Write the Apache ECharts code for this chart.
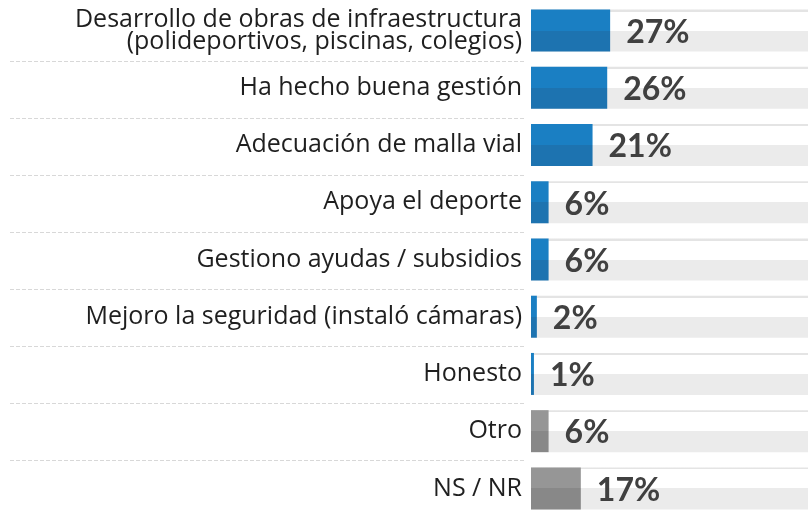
<!DOCTYPE html>
<html>
<head>
<meta charset="utf-8">
<script src="https://cdn.jsdelivr.net/npm/echarts@6/dist/echarts.min.js"></script>
<style>
  html, body { margin: 0; padding: 0; background: #fff; }
  #chart { width: 808px; height: 517px; }
</style>
</head>
<body>
<div id="chart"></div>
<script>
const categories = [
  'Desarrollo de obras de infraestructura\n(polideportivos, piscinas, colegios)',
  'Ha hecho buena gestión',
  'Adecuación de malla vial',
  'Apoya el deporte',
  'Gestiono ayudas / subsidios',
  'Mejoro la seguridad (instaló cámaras)',
  'Honesto',
  'Otro',
  'NS / NR'
];
const percentages = [27, 26, 21, 6, 6, 2, 1, 6, 17];
const greyCategories = ['Otro', 'NS / NR'];

const labelFont = '"Open Sans", sans-serif';
const valueFont = 'Lato, "Open Sans", sans-serif';

const blueFill = new echarts.graphic.LinearGradient(0, 0, 0, 1, [
  { offset: 0, color: '#1a7fc3' },
  { offset: 0.5, color: '#1a7fc3' },
  { offset: 0.5, color: '#1d73b0' },
  { offset: 1, color: '#1d73b0' }
]);
const greyFill = new echarts.graphic.LinearGradient(0, 0, 0, 1, [
  { offset: 0, color: '#969696' },
  { offset: 0.5, color: '#969696' },
  { offset: 0.5, color: '#888888' },
  { offset: 1, color: '#888888' }
]);
const trackFill = new echarts.graphic.LinearGradient(0, 0, 0, 1, [
  { offset: 0, color: '#e4e4e4' },
  { offset: 0.05, color: '#e4e4e4' },
  { offset: 0.05, color: '#ffffff' },
  { offset: 0.5, color: '#ffffff' },
  { offset: 0.5, color: '#ebebeb' },
  { offset: 1, color: '#ebebeb' }
]);

const chart = echarts.init(document.getElementById('chart'));

chart.setOption({
  animation: false,
  grid: [
    { left: 531, right: 0, top: 2, height: 517 },
    { left: 10, width: 515, top: 4, height: 517 }
  ],
  xAxis: [
    { type: 'value', gridIndex: 0, min: 0, max: 94.5, show: false },
    { type: 'value', gridIndex: 1, min: 0, max: 1, show: false }
  ],
  yAxis: [
    {
      type: 'category',
      gridIndex: 0,
      data: categories,
      inverse: true,
      axisLine: { show: false },
      axisTick: { show: false },
      axisLabel: {
        margin: 9,
        fontFamily: labelFont,
        fontSize: 25,
        lineHeight: 22,
        color: '#1f1f1f'
      }
    },
    {
      type: 'category',
      gridIndex: 1,
      data: categories,
      inverse: true,
      axisLine: { show: false },
      axisTick: { show: false },
      axisLabel: { show: false },
      splitLine: {
        show: true,
        showMinLine: false,
        showMaxLine: false,
        lineStyle: { color: '#d8d8d8', type: [4, 2], width: 1 }
      }
    }
  ],
  series: [{
    type: 'bar',
    xAxisIndex: 0,
    yAxisIndex: 0,
    barWidth: 42,
    showBackground: true,
    backgroundStyle: { color: trackFill },
    data: percentages.map((v, i) => ({
      value: v,
      itemStyle: {
        color: greyCategories.includes(categories[i]) ? greyFill : blueFill
      }
    })),
    label: {
      show: true,
      position: 'right',
      distance: 16,
      formatter: '{c}%',
      fontFamily: valueFont,
      fontSize: 32,
      fontWeight: 'bold',
      color: '#404040',
      offset: [0, 2]
    }
  }]
});

window.addEventListener('resize', () => chart.resize());
</script>
</body>
</html>
